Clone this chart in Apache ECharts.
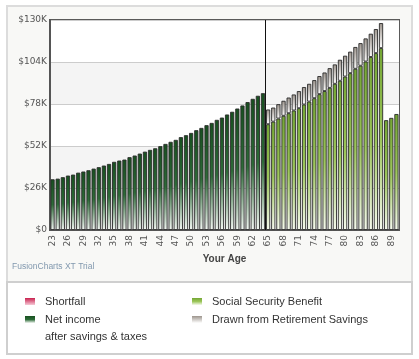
<!DOCTYPE html>
<html><head><meta charset="utf-8">
<script src="https://cdn.jsdelivr.net/npm/echarts@6/dist/echarts.min.js"></script>
<style>html,body{margin:0;padding:0;background:#fff}#c{width:419px;height:359px}</style>
</head><body><div id="c"></div>
<script>
const ages = ['23','24','25','26','27','28','29','30','31','32','33','34','35','36','37','38','39','40','41','42','43','44','45','46','47','48','49','50','51','52','53','54','55','56','57','58','59','60','61','62','63','64','65','66','67','68','69','70','71','72','73','74','75','76','77','78','79','80','81','82','83','84','85','86','87','88','89','90'];
// values in $K
const netIncome = [31.4,31.8,32.7,33.7,34.3,35.5,36.2,37.0,38.0,38.9,39.9,40.9,42.2,43.0,43.6,45.1,46.1,47.3,48.5,49.6,50.6,51.9,53.3,54.6,55.8,57.5,58.7,60.1,61.8,63.2,64.9,66.3,68.2,69.6,71.5,73.2,75.2,77.1,79.2,81.2,83.1,84.7];
const socialSecurity = [65.5,67.1,69.0,70.7,72.3,74.0,75.4,77.7,79.5,81.6,84.1,86.0,88.0,90.5,92.4,95.0,97.1,99.8,101.7,104.3,107.1,109.5,112.6,68.0,69.4,71.8];
const drawnSavings = [9.1,8.7,8.9,9.3,9.7,9.9,10.6,10.8,11.0,11.2,11.2,11.5,12.2,12.0,13.0,12.9,13.3,13.5,14.0,14.3,14.4,14.9,15.5,0,0,0];
const shortfall = [];
const retirementAge = 65;
const yMin = 0, yMax = 130, yStep = 26;

const firstAge = +ages[0], lastAge = +ages[ages.length-1];
const retIdx = ages.indexOf(String(retirementAge));
const netFull = ages.map((a,i)=> i < netIncome.length ? netIncome[i] : null);
const ssFull = ages.map((a,i)=> i >= retIdx ? socialSecurity[i-retIdx] : null);
const drawnFull = ages.map((a,i)=> { if (i < retIdx) return null; const v = drawnSavings[i-retIdx]; return v ? v : null; });

function grad(stops){ return new echarts.graphic.LinearGradient(0,0,0,1, stops.map(s=>({offset:s[0],color:s[1]}))); }
const cShort = grad([[0,'#c8204e'],[1,'#f6c9d6']]);
const cNet = grad([[0,'#17501f'],[0.5,'#2d6b38'],[1,'#f4f8f4']]);
const cSS = grad([[0,'#74a634'],[0.5,'#9cc65a'],[1,'#f6faee']]);
const cDrawn = grad([[0,'#9c948c'],[1,'#ffffff']]);

const NAME_SHORT='Shortfall', NAME_NET='Net income', NAME_SS='Social Security Benefit', NAME_DRAWN='Drawn from Retirement Savings';
const legendBase = {orient:'vertical', icon:'rect', itemWidth:10, itemHeight:7, padding:0, selectedMode:false,
  itemStyle:{borderWidth:0},
  textStyle:{color:'#333', fontSize:11, fontFamily:'Liberation Sans, Arial', lineHeight:17, rich:{t:{padding:[0,0,0,5], fontSize:11, color:'#333', fontFamily:'Liberation Sans, Arial', lineHeight:17}}},
  formatter: n => '{t|' + n + '}'};

const barStyle = (c) => ({color:c, borderColor:'#2b2b2b', borderWidth:0.9});

const chart = echarts.init(document.getElementById('c'), null, {renderer:'canvas'});
chart.setOption({
  animation:false,
  backgroundColor:'#fff',
  graphic:[
    {type:'rect', shape:{x:7,y:6,width:405,height:276}, style:{fill:'#f8f8f6', stroke:'#dcdcdc', lineWidth:2}, z:-10},
    {type:'rect', shape:{x:7,y:282,width:405,height:72}, style:{fill:'#ffffff', stroke:'#cfcfcf', lineWidth:2}, z:-10},
    {type:'text', left:12, top:262, style:{text:'FusionCharts XT Trial', fill:'#8198ae', font:'8.5px "Liberation Sans", Arial'}}
  ],
  grid:{left:50, right:20, top:20, bottom:129, show:true, backgroundColor:'#fff', borderColor:'#5a5a5a', borderWidth:2},
  legend:[
    Object.assign({}, legendBase, {data:[NAME_SHORT], left:25, top:293}),
    Object.assign({}, legendBase, {data:[NAME_NET], left:25, top:294, formatter: n => '{t| }\n{t|' + n + '}\n{t|after savings & taxes}'}),
    Object.assign({}, legendBase, {data:[NAME_SS], left:192, top:293}),
    Object.assign({}, legendBase, {data:[NAME_DRAWN], left:192, top:311})
  ],
  xAxis:[
    {type:'category', data:ages, boundaryGap:true,
      name:'Your Age', nameLocation:'middle', nameGap:21,
      nameTextStyle:{fontWeight:'bold', fontSize:10, color:'#444', fontFamily:'Liberation Sans, Arial'},
      axisLine:{lineStyle:{color:'#555', width:2}}, axisTick:{show:false},
      axisLabel:{interval:2, rotate:90, fontSize:9, color:'#555', margin:5, fontFamily:'DejaVu Sans'}},
    {type:'value', min:firstAge-0.5, max:lastAge+0.5, show:false}
  ],
  yAxis:{type:'value', min:yMin, max:yMax, interval:yStep,
    axisLine:{show:true, lineStyle:{color:'#555', width:2}}, axisTick:{show:false},
    axisLabel:{formatter: v => v === 0 ? '$0' : '$' + v + 'K', fontSize:9, color:'#555', margin:3, fontFamily:'DejaVu Sans'},
    splitLine:{lineStyle:{color:'#cccccc', width:1}},
    splitArea:{show:true, areaStyle:{color:['#ffffff','#f4f4f4']}}},
  series:[
    {type:'scatter', xAxisIndex:1, data:[], silent:true, z:1,
      markLine:{silent:true, symbol:'none', z:1, label:{show:false}, lineStyle:{color:'#111', width:1, type:'solid'},
        data:[{xAxis: retirementAge - 0.5}]}},
    {name:NAME_SHORT, type:'bar', stack:'t', data:shortfall, itemStyle:barStyle(cShort)},
    {name:NAME_NET, type:'bar', stack:'t', data:netFull, barWidth:4.2, itemStyle:barStyle(cNet)},
    {name:NAME_SS, type:'bar', stack:'t', data:ssFull, barWidth:4.2, itemStyle:barStyle(cSS)},
    {name:NAME_DRAWN, type:'bar', stack:'t', data:drawnFull, barWidth:4.2, itemStyle:barStyle(cDrawn)}
  ]
});
</script></body></html>
